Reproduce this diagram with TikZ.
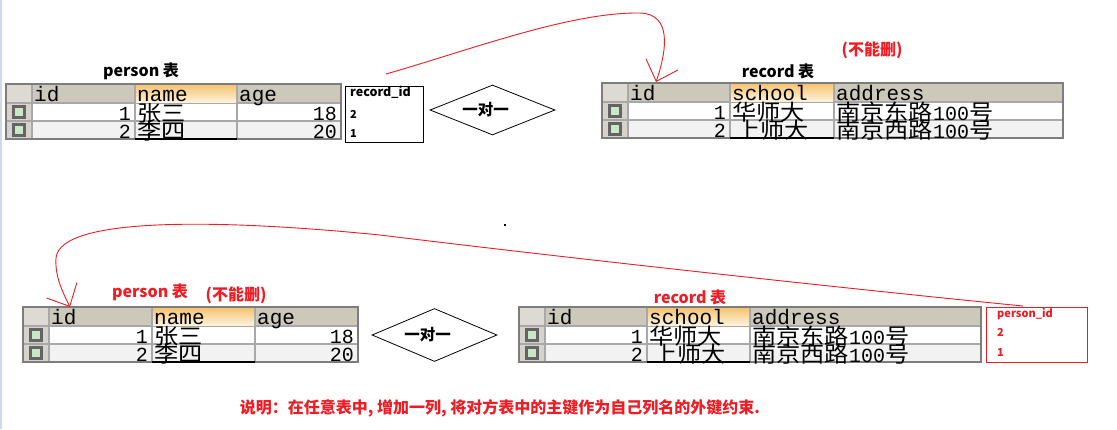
\documentclass[tikz,border=0pt]{standalone}
\usepackage{fontspec}
\setmonofont{Liberation Mono}
\newfontfamily\cjk{Noto Sans CJK SC}
\newfontfamily\cjkwide[FakeStretch=1.1]{Noto Sans CJK SC}
\usetikzlibrary{shapes.geometric,arrows.meta}

\definecolor{hdrgray}{RGB}{204,200,186}
\definecolor{cornergray}{RGB}{220,218,210}
\definecolor{rhgray}{RGB}{214,211,204}
\definecolor{gridgray}{RGB}{168,168,168}
\definecolor{bordergray}{RGB}{125,125,125}
\definecolor{orangetop}{RGB}{245,196,115}
\definecolor{orangebot}{RGB}{252,242,220}
\definecolor{rowtwo}{RGB}{242,242,242}
\definecolor{iconfill}{RGB}{200,232,200}
\definecolor{icondraw}{RGB}{100,100,100}
\definecolor{myred}{RGB}{238,28,36}
\definecolor{edgeblue}{RGB}{205,218,238}

\newcommand\myfs[1]{\fontsize{#1}{#1}\selectfont}

% generic table grid: #1 = end of id column, #2 = end of 2nd column, #3 = total width
\newcommand\dbgrid[3]{%
  \fill[gridgray] (0,0) rectangle (#3,55);
  \fill[cornergray] (1,1) rectangle (25,18);
  \fill[hdrgray] (27,1) rectangle (#1-1,18);
  \shade[top color=orangetop,bottom color=orangebot] (#1+1,1) rectangle (#2-1,18);
  \fill[hdrgray] (#2+1,1) rectangle (#3-1,18);
  \fill[rhgray] (1,20) rectangle (25,36);
  \fill[rhgray] (1,38) rectangle (25,54);
  \fill[white] (27,20) rectangle (#1-1,36);
  \fill[white] (#1+1,20) rectangle (#2-1,36);
  \fill[white] (#2+1,20) rectangle (#3-1,36);
  \fill[rowtwo] (27,38) rectangle (#1-1,54);
  \fill[rowtwo] (#1+1,38) rectangle (#2-1,54);
  \fill[rowtwo] (#2+1,38) rectangle (#3-1,54);
  \filldraw[fill=iconfill, draw=icondraw, line width=2.6pt] (7.5,22.5) rectangle (18.5,33.5);
  \filldraw[fill=iconfill, draw=icondraw, line width=2.6pt] (7.5,40.5) rectangle (18.5,51.5);
  \draw[bordergray, line width=1.5pt] (0,0) rectangle (#3,55);
  \draw[black, line width=1.5pt] (#1,55) -- (#2,55);
}

\begin{document}
\begin{tikzpicture}[x=1pt,y=-1pt,
  hdrtxt/.style={font=\ttfamily\myfs{21}, anchor=base west, inner sep=0, text height=13, text depth=1},
  numtxt/.style={font=\ttfamily\myfs{20}, anchor=base east, inner sep=0, text height=14, text depth=1},
  cjktxt/.style={font=\cjkwide\myfs{22}, anchor=base west, inner sep=0, text height=14, text depth=1},
  blabel/.style={font=\cjk\bfseries\myfs{16}, inner sep=0},
  redlabel/.style={blabel, text=myred},
  boxtxt/.style={font=\cjk\bfseries\myfs{12.5}, anchor=west, inner sep=0},
  smalltxt/.style={font=\cjk\bfseries\myfs{11}, anchor=west, inner sep=0},
  rel/.style={diamond, draw, line width=0.8pt, aspect=2.5, inner sep=0},
  dtxt/.style={font=\cjk\bfseries\myfs{15.5}, inner sep=0},
  fkline/.style={draw=myred, line width=0.9pt, -{Straight Barb[length=18pt,width=34pt]}}
]
\useasboundingbox (0,0) rectangle (1117,429);
\fill[white] (0,0) rectangle (1117,429);
\fill[edgeblue] (0,0) rectangle (2,429);
\fill[black] (504,224) rectangle (505.5,226);

% ---------- top person table ----------
\node[blabel] (atitle) at (141,71) {person 表};
\begin{scope}[shift={(6,84)}]
  \dbgrid{129}{231}{335}
  \node[hdrtxt] (aid) at (28,17) {id};
  \node[hdrtxt] (aname) at (131,17) {name};
  \node[hdrtxt] (aage) at (233,17) {age};
  \node[numtxt] (a1) at (125,36) {1};
  \node[numtxt] (a2) at (125,54) {2};
  \node[cjktxt] (an1) at (131,37) {张三};
  \node[cjktxt] (an2) at (131,55) {李四};
  \node[numtxt] (aa1) at (331,36) {18};
  \node[numtxt] (aa2) at (331,54) {20};
\end{scope}

% record_id column box
\node[draw, line width=0.8pt, minimum width=78, minimum height=56, anchor=north west, inner sep=0] (recbox) at (345,86) {};
\node[boxtxt] (rech) at (350,92) {record\_id};
\node[smalltxt] (rec2) at (350,114) {2};
\node[smalltxt] (rec1) at (350,134) {1};

% top relation
\node[rel, minimum width=125, minimum height=50,
      label={[dtxt, xshift=-7pt]center:一对一}] (d1) at (492.5,110) {};

% ---------- top record table ----------
\node[blabel] (btitle) at (778,71.5) {record 表};
\node[redlabel] (bnodel) at (872,50) {(不能删)};
\begin{scope}[shift={(602,83)}]
  \dbgrid{128}{232}{461}
  \node[hdrtxt] (bid) at (28,17) {id};
  \node[hdrtxt] (bschool) at (130,17) {school};
  \node[hdrtxt] (baddr) at (234,17) {address};
  \node[numtxt] (b1) at (124,36) {1};
  \node[numtxt] (b2) at (124,54) {2};
  \node[cjktxt] (bs1) at (130,37) {华师大};
  \node[cjktxt] (bs2) at (134,55) {上师大};
  \node[cjktxt] (ba1) at (234,37) {南京东路{\ttfamily\myfs{20}100}号};
  \node[cjktxt] (ba2) at (234,55) {南京西路{\ttfamily\myfs{20}100}号};
\end{scope}

% top foreign key arrow
\coordinate (tstart) at (386,74);
\coordinate (ttip) at (656,82);
\draw[fkline] (tstart) .. controls (470,50) and (570,12) .. (640,13)
  .. controls (672,14) and (667,50) .. (ttip);

% ---------- bottom person table ----------
\node[redlabel] (ctitle) at (150,292) {person 表};
\node[redlabel] (cnodel) at (236,295) {(不能删)};
\begin{scope}[shift={(23,307)}]
  \dbgrid{129}{232}{335}
  \node[hdrtxt] (cid) at (28,17) {id};
  \node[hdrtxt] (cname) at (131,17) {name};
  \node[hdrtxt] (cage) at (234,17) {age};
  \node[numtxt] (c1) at (125,36) {1};
  \node[numtxt] (c2) at (125,54) {2};
  \node[cjktxt] (cn1) at (131,37) {张三};
  \node[cjktxt] (cn2) at (131,55) {李四};
  \node[numtxt] (ca1) at (331,36) {18};
  \node[numtxt] (ca2) at (331,54) {20};
\end{scope}

% bottom relation
\node[rel, minimum width=125, minimum height=53,
      label={[dtxt, xshift=-7pt]center:一对一}] (d2) at (434.5,335) {};

% ---------- bottom record table ----------
\node[redlabel] (dtitle) at (690,297) {record 表};
\begin{scope}[shift={(519,307)}]
  \dbgrid{128}{231}{462}
  \node[hdrtxt] (did) at (28,17) {id};
  \node[hdrtxt] (dschool) at (130,17) {school};
  \node[hdrtxt] (daddr) at (233,17) {address};
  \node[numtxt] (d1n) at (124,36) {1};
  \node[numtxt] (d2n) at (124,54) {2};
  \node[cjktxt] (ds1) at (130,37) {华师大};
  \node[cjktxt] (ds2) at (134,55) {上师大};
  \node[cjktxt] (da1) at (233,37) {南京东路{\ttfamily\myfs{20}100}号};
  \node[cjktxt] (da2) at (233,55) {南京西路{\ttfamily\myfs{20}100}号};
\end{scope}

% person_id column box
\node[draw=myred, line width=1pt, minimum width=101, minimum height=55, anchor=north west, inner sep=0] (perbox) at (986,307) {};
\node[smalltxt, text=myred] (perh) at (997,314) {person\_id};
\node[smalltxt, text=myred] (per2) at (997,332) {2};
\node[smalltxt, text=myred] (per1) at (997,352) {1};

% bottom foreign key arrow
\coordinate (bstart) at (1023,306);
\coordinate (btip) at (70,307);
\draw[fkline] (bstart) .. controls (900,294) and (600,262) .. (380,235)
  .. controls (230,220) and (60,215) .. (56,258)
  .. controls (55,275) and (61,289) .. (btip);

% note
\node[redlabel] (note) at (500,408) {说明：在任意表中, 增加一列, 将对方表中的主键作为自己列名的外键约束.};
\end{tikzpicture}
\end{document}
